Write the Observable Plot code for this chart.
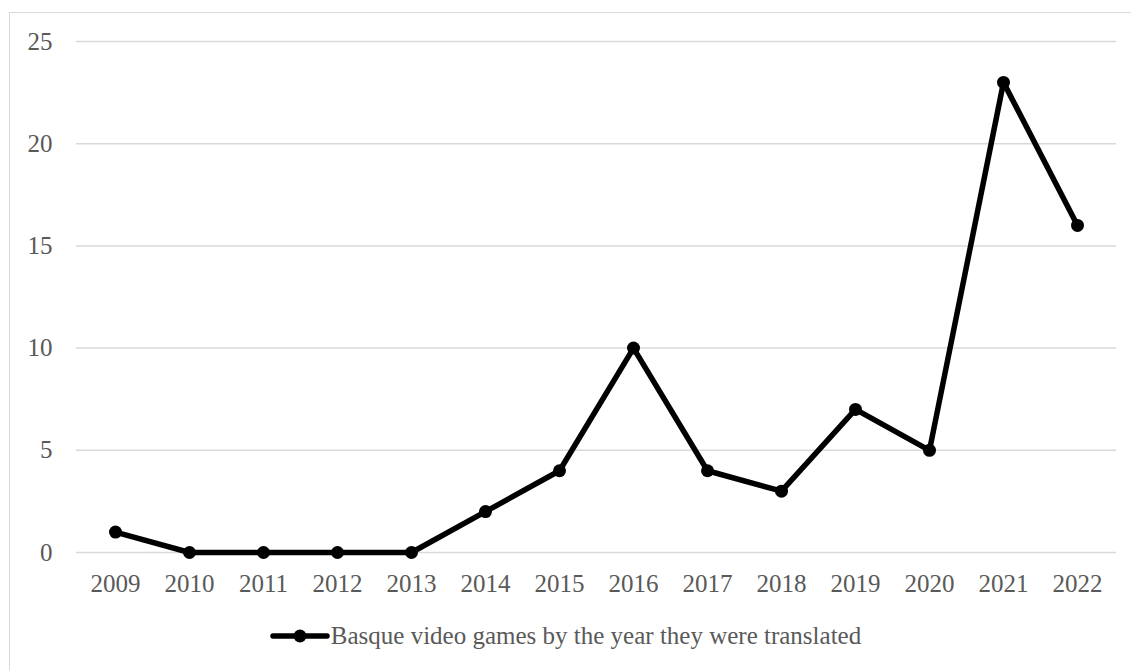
<!DOCTYPE html>
<html>
<head>
<meta charset="utf-8">
<script src="https://cdn.jsdelivr.net/npm/d3@7"></script>
<script src="https://cdn.jsdelivr.net/npm/@observablehq/plot@0.6"></script>
<style>
  html, body { margin: 0; padding: 0; width: 1131px; height: 670px; overflow: hidden; background: #fff; }
  #frame { position: absolute; left: 9px; top: 12px; width: 1200px; height: 800px; border: 1.5px solid #d9d9d9; box-sizing: border-box; }
  #chart { position: absolute; left: 0; top: 0; }
  #legend { position: absolute; left: 0; top: 622px; width: 1131px; display: flex; justify-content: center; align-items: center;
    font-family: "Liberation Serif", "Times New Roman", serif; font-size: 25px; color: #595959; }
  #legend svg { margin-right: 1px; }
</style>
</head>
<body>
<div id="frame"></div>
<div id="chart"></div>
<div id="legend"></div>
<script>
const years = ["2009","2010","2011","2012","2013","2014","2015","2016","2017","2018","2019","2020","2021","2022"];
const games = [1, 0, 0, 0, 0, 2, 4, 10, 4, 3, 7, 5, 23, 16];
const yTicks = [0, 5, 10, 15, 20, 25];
const seriesName = "Basque video games by the year they were translated";

const data = years.map((y, i) => ({year: y, value: games[i]}));

const chart = Plot.plot({
  width: 1131,
  height: 610,
  marginLeft: 76,
  marginRight: 15,
  marginTop: 41,
  marginBottom: 58,
  style: {fontFamily: "'Liberation Serif', 'Times New Roman', serif", fontSize: "25px", color: "#595959", background: "transparent"},
  x: {type: "point", domain: years, padding: 0.5, label: null},
  y: {domain: [0, 25], label: null},
  marks: [
    Plot.ruleY(yTicks, {stroke: "#d9d9d9", strokeWidth: 1.5}),
    Plot.axisX({tickSize: 0, tickPadding: 22, label: null, fill: "#595959"}),
    Plot.axisY({ticks: yTicks, tickSize: 0, tickPadding: 24, label: null, fill: "#595959"}),
    Plot.line(data, {x: "year", y: "value", stroke: "#000", strokeWidth: 5.5, strokeLinejoin: "round"}),
    Plot.dot(data, {x: "year", y: "value", fill: "#000", r: 6.5})
  ]
});
document.getElementById("chart").appendChild(chart);

const leg = document.getElementById("legend");
const sw = d3.create("svg").attr("width", 60).attr("height", 20);
sw.append("line").attr("x1", 3).attr("x2", 57).attr("y1", 10).attr("y2", 10)
  .attr("stroke", "#000").attr("stroke-width", 5.5).attr("stroke-linecap", "round");
sw.append("circle").attr("cx", 30).attr("cy", 10).attr("r", 6.5).attr("fill", "#000");
leg.appendChild(sw.node());
const span = document.createElement("span");
span.textContent = seriesName;
leg.appendChild(span);
</script>
</body>
</html>
